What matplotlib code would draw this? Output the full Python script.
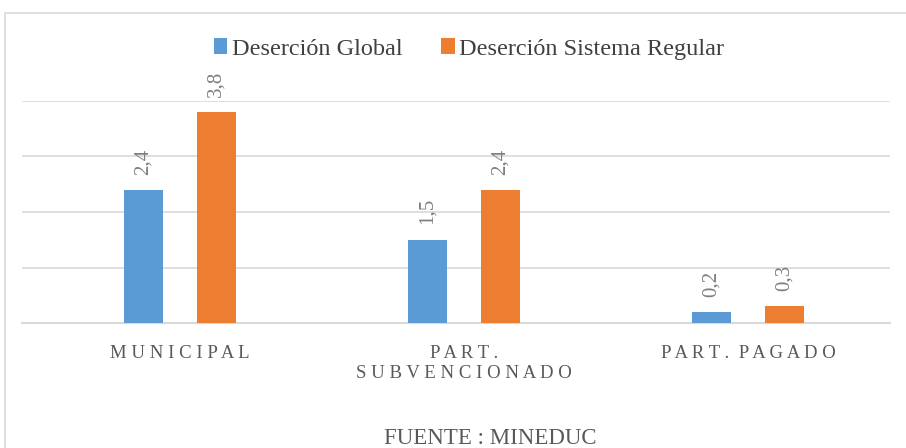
import numpy as np
import matplotlib
matplotlib.use("Agg")
import matplotlib.pyplot as plt
from matplotlib.patches import Rectangle

# ------------------------------------------------------------
# DATA
# ------------------------------------------------------------
categories = ["M U N I C I P A L", "P A R T .\nS U B V E N C I O N A D O", "P A R T .  P A G A D O"]
desercion_global = [2.4, 1.5, 0.2]
desercion_regular = [3.8, 2.4, 0.3]
series_names = ["Deserción Global", "Deserción Sistema Regular"]
source_text = "FUENTE : MINEDUC"

BLUE = "#5B9BD5"
ORANGE = "#ED7D31"
GRID = "#D9D9D9"
TEXT = "#595959"

plt.rcParams["font.family"] = ["Liberation Serif", "DejaVu Serif"]

fig = plt.figure(figsize=(9.06, 4.48), dpi=100)
ax = fig.add_axes([22 / 906, 125 / 448, 868 / 906, 222 / 448])

x = np.arange(len(categories))
w = 0.137
off = 0.128
b1 = ax.bar(x - off, desercion_global, w, color=BLUE, label=series_names[0], zorder=3)
b2 = ax.bar(x + off, desercion_regular, w, color=ORANGE, label=series_names[1], zorder=3)

# value labels (rotated)
for bars, vals in [(b1, desercion_global), (b2, desercion_regular)]:
    for rect, v in zip(bars, vals):
        ax.annotate(f"{v:.1f}".replace(".", ","),
                    xy=(rect.get_x() + rect.get_width() / 2, rect.get_height()),
                    xytext=(0, 11), textcoords="offset points",
                    rotation=90, ha="center", va="bottom",
                    fontsize=15, color="#7F7F7F", annotation_clip=False)

ax.set_xlim(-0.556, 2.5)
ax.set_ylim(0, 4)
ax.set_yticks([0, 1, 2, 3, 4])
ax.yaxis.grid(True, color=GRID, linewidth=1.2, zorder=0)
ax.set_axisbelow(True)
for s in ["top", "right", "left"]:
    ax.spines[s].set_visible(False)
ax.spines["bottom"].set_color(GRID)
ax.spines["bottom"].set_linewidth(1.5)
ax.tick_params(axis="y", left=False, labelleft=False)
ax.tick_params(axis="x", length=0, pad=15.5)
ax.set_xticks(x)
ax.set_xticklabels(categories, fontsize=13.5, color=TEXT, linespacing=1.3)

leg = fig.legend(loc="center", bbox_to_anchor=(469 / 906, 399 / 448), ncol=2,
                 frameon=False, fontsize=17.5, handlelength=0.55, handleheight=0.6,
                 handletextpad=0.2, columnspacing=1.6, labelcolor="#404040")

fig.text(490 / 906, 4 / 448, source_text, ha="center", va="baseline",
         fontsize=16.5, color=TEXT)

# chart border (cut off at right and bottom)
fig.patches.append(Rectangle((5 / 906, -0.1), 1.2, 435 / 448 + 0.1,
                             transform=fig.transFigure, fill=False,
                             edgecolor=GRID, linewidth=1.2))

fig.savefig("out.png", dpi=100)
